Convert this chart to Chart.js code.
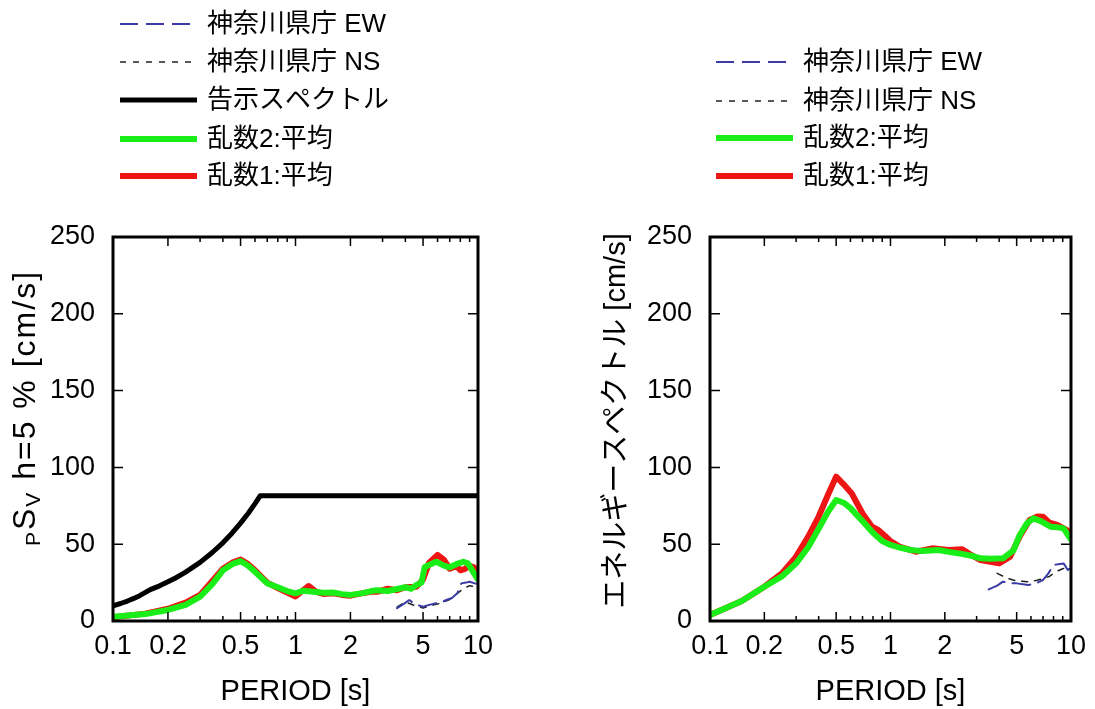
<!DOCTYPE html>
<html><head><meta charset="utf-8">
<script src="https://cdn.jsdelivr.net/npm/chart.js@4.4.1/dist/chart.umd.min.js"></script>
<style>
html,body{margin:0;padding:0;background:#fff;width:1095px;height:709px;overflow:hidden}
#c1{position:absolute;left:0;top:0}
#c2{position:absolute;left:545px;top:0}
</style></head><body>
<canvas id="c1" width="545" height="709"></canvas>
<canvas id="c2" width="550" height="709"></canvas>
<script>
// ---------- labels ----------
const labelEW = '神奈川県庁 EW';
const labelNS = '神奈川県庁 NS';
const labelKokuji = '告示スペクトル';
const labelRand2 = '乱数2:平均';
const labelRand1 = '乱数1:平均';
const xTitle = 'PERIOD [s]';
const yTitleRight = 'エネルギースペクトル [cm/s]';
// left y title pieces: prefix subscript, main, subscript, rest
const yTitleLeftParts = ['P', 'S', 'V', ' h=5 % [cm/s]'];

// ---------- ticks ----------
const xTickValues = [0.1, 0.2, 0.5, 1, 2, 5, 10];
const xMinorTicks = [0.3, 0.4, 0.6, 0.7, 0.8, 0.9, 3, 4, 6, 7, 8, 9];
const yTickValues = [0, 50, 100, 150, 200, 250];

// ---------- left chart: pSv (h=5%) ----------
const kokujiT = [0.1, 0.11, 0.12, 0.13, 0.14, 0.16, 0.18, 0.2, 0.22, 0.25, 0.3, 0.35, 0.4, 0.45, 0.5, 0.55, 0.6, 0.64, 10];
const kokujiV = [9.9, 11.4, 13.0, 14.7, 16.5, 20.4, 22.9, 25.5, 28.0, 31.8, 38.2, 44.6, 50.9, 57.3, 63.7, 70.0, 76.4, 81.5, 81.5];

const svRand2T = [0.1, 0.15, 0.2, 0.25, 0.3, 0.35, 0.4, 0.45, 0.5, 0.55, 0.6, 0.7, 0.8, 0.9, 1.0, 1.1, 1.25, 1.42, 1.6, 1.8, 2.0, 2.3, 2.6, 2.8, 3.2, 3.6, 4.0, 4.3, 4.6, 4.9, 5.1, 5.5, 5.9, 6.5, 7.0, 7.6, 8.3, 8.8, 9.4, 10];
const svRand2V = [2.8, 4.5, 7.2, 10.5, 15.8, 24, 33, 37, 39, 36, 32, 24.5, 22, 19.5, 18, 19.7, 19, 18.4, 18.5, 17.5, 17, 18, 19.5, 20, 19.5, 20.8, 22, 21, 23.4, 25, 35, 37, 38.6, 36, 35, 37, 38.6, 37.5, 32, 27];

const svRand1T = [0.1, 0.15, 0.2, 0.25, 0.3, 0.35, 0.4, 0.45, 0.5, 0.55, 0.6, 0.7, 0.8, 0.9, 1.0, 1.1, 1.18, 1.3, 1.42, 1.6, 1.8, 2.0, 2.3, 2.6, 2.8, 3.2, 3.6, 4.0, 4.6, 5.0, 5.4, 6.0, 6.5, 7.0, 7.6, 8.0, 8.5, 9.0, 9.5, 10];
const svRand1V = [2.5, 4.8, 8, 12, 17, 26, 34, 38, 40, 37, 33, 25, 21.5, 18.5, 16, 20, 22.8, 19, 17.6, 18, 17, 16.5, 18, 19, 19, 21, 20, 22, 22.3, 27, 38, 43, 40, 34, 36, 33, 34, 36, 35, 29];

const svEWT = [3.6, 3.9, 4.2, 4.5, 5.0, 5.4, 5.9, 6.3, 6.7, 7.2, 7.7, 8.1, 8.6, 9.0, 9.6, 10];
const svEWV = [8.3, 11, 13.7, 11, 9.3, 10.5, 11.5, 12, 13.7, 15, 18, 24.5, 25, 25.6, 24.5, 24];
const svNST = [3.6, 4.0, 4.5, 5.0, 5.5, 6.0, 6.5, 7.0, 7.7, 8.3, 9.0, 10];
const svNSV = [9, 12.5, 10, 8.5, 10, 11, 12.5, 14, 18, 21, 23, 22];

// ---------- right chart: energy spectrum ----------
const enRand2T = [0.1, 0.15, 0.2, 0.25, 0.3, 0.35, 0.4, 0.45, 0.5, 0.55, 0.6, 0.7, 0.8, 0.9, 1.0, 1.15, 1.3, 1.5, 1.84, 2.1, 2.4, 2.8, 3.15, 3.6, 4.2, 4.8, 5.2, 5.7, 6.2, 6.8, 7.7, 8.4, 9.1, 10];
const enRand2V = [3.9, 13, 22.3, 29, 37.5, 48, 60, 71, 78.8, 77, 73.5, 65, 57.5, 52, 49.5, 47.5, 46.2, 45.5, 46.2, 45, 44, 42.5, 40.8, 40.5, 40.8, 46, 56, 63.6, 66.8, 65, 61.4, 61, 60.3, 53];

const enRand1T = [0.1, 0.15, 0.2, 0.25, 0.3, 0.35, 0.4, 0.45, 0.5, 0.55, 0.61, 0.7, 0.79, 0.85, 0.94, 1.0, 1.12, 1.38, 1.7, 2.1, 2.5, 2.8, 3.15, 4.0, 4.6, 5.2, 5.9, 6.5, 7.0, 7.6, 8.4, 9.5, 10];
const enRand1V = [3.9, 13, 22.3, 31, 41.9, 55, 68, 82, 94, 89, 83, 70, 61.4, 59.5, 55, 52, 48.4, 45.1, 47.3, 46.2, 46.7, 43, 39.7, 37.5, 41.9, 55, 65.8, 68, 67.9, 64, 62.5, 59.2, 54];

const enEWT = [3.5, 3.9, 4.2, 4.6, 5.0, 5.8, 6.4, 7.0, 7.5, 8.0, 8.5, 9.1, 9.6, 10];
const enEWV = [20.6, 23, 25.6, 24.5, 24.5, 23.4, 24.5, 26.7, 31, 36.5, 37, 37.5, 33.2, 35];
const enNST = [3.9, 4.4, 5.0, 5.8, 6.5, 7.0, 7.6, 8.2, 9.0, 10];
const enNSV = [31, 28, 26, 25.6, 26.5, 27.8, 29, 32, 34, 36];

// ---------- styles ----------
const FONT = '"Liberation Sans", "Noto Sans CJK JP", sans-serif';
const COL_EW = '#3b3ba6', COL_NS = '#222222', COL_RED = '#ee1515', COL_GREEN = '#19ee19';
const pts = (T, V) => T.map((t, i) => ({ x: t, y: V[i] }));

function ds(label, T, V, color, width, dash) {
  return { label, data: pts(T, V), borderColor: color, backgroundColor: color,
    borderWidth: width, borderDash: dash || [], pointRadius: 0, tension: 0,
    borderJoinStyle: 'round', borderCapStyle: 'round', fill: false };
}

function decor(cfg) {
  return {
    id: 'decor',
    afterDatasetsDraw(chart) {
      const ctx = chart.ctx, a = chart.chartArea, xs = chart.scales.x, ys = chart.scales.y;
      ctx.save();
      ctx.strokeStyle = '#000'; ctx.lineWidth = 1.5; ctx.setLineDash([]);
      ctx.beginPath();
      yTickValues.forEach(v => { const p = ys.getPixelForValue(v);
        ctx.moveTo(a.left, p); ctx.lineTo(a.left + 10, p);
        ctx.moveTo(a.right, p); ctx.lineTo(a.right - 10, p); });
      xTickValues.forEach(v => { const p = xs.getPixelForValue(v);
        ctx.moveTo(p, a.bottom); ctx.lineTo(p, a.bottom - 9);
        ctx.moveTo(p, a.top); ctx.lineTo(p, a.top + 9); });
      xMinorTicks.forEach(v => { const p = xs.getPixelForValue(v);
        ctx.moveTo(p, a.bottom); ctx.lineTo(p, a.bottom - 5);
        ctx.moveTo(p, a.top); ctx.lineTo(p, a.top + 5); });
      ctx.stroke();
      ctx.lineWidth = 3;
      ctx.strokeRect(a.left, a.top, a.right - a.left, a.bottom - a.top);
      ctx.restore();
    },
    afterDraw(chart) {
      const ctx = chart.ctx, a = chart.chartArea;
      ctx.save();
      // legend
      chart.data.datasets.forEach((d, i) => {
        const y = cfg.legendY[i];
        ctx.beginPath();
        ctx.setLineDash(d.borderDash || []);
        ctx.lineWidth = d.borderWidth;
        ctx.strokeStyle = d.borderColor;
        ctx.lineCap = 'butt';
        ctx.moveTo(cfg.lx0, y); ctx.lineTo(cfg.lx1, y); ctx.stroke();
        ctx.setLineDash([]);
        ctx.fillStyle = '#000';
        ctx.font = '26px ' + FONT;
        ctx.textAlign = 'left'; ctx.textBaseline = 'middle';
        ctx.fillText(d.label, cfg.tx, y + 1);
      });
      // x title
      ctx.fillStyle = '#000';
      ctx.font = '29px ' + FONT;
      ctx.textAlign = 'center'; ctx.textBaseline = 'middle';
      ctx.fillText(xTitle, (a.left + a.right) / 2, 692);
      // y title
      ctx.translate(cfg.ytx, cfg.yty);
      ctx.rotate(-Math.PI / 2);
      ctx.textBaseline = 'alphabetic';
      if (cfg.yParts) {
        if ('letterSpacing' in ctx) ctx.letterSpacing = '2px';
        const big = '32px ' + FONT, small = '21px ' + FONT;
        const parts = [[cfg.yParts[0], small, 5], [cfg.yParts[1], big, 0], [cfg.yParts[2], small, 5], [cfg.yParts[3], big, 0]];
        let total = 0;
        parts.forEach(p => { ctx.font = p[1]; total += ctx.measureText(p[0]).width; });
        let x = -total / 2;
        ctx.textAlign = 'left';
        parts.forEach(p => { ctx.font = p[1]; ctx.fillText(p[0], x, 11 + p[2]); x += ctx.measureText(p[0]).width; });
      } else {
        ctx.font = '29px ' + FONT;
        ctx.textAlign = 'center';
        ctx.fillText(cfg.yText, 0, 10);
      }
      ctx.restore();
    }
  };
}

function options(yWidth, padRight) {
  return {
    responsive: false, animation: false, events: [],
    layout: { padding: { top: 237, right: padRight, left: 0, bottom: 0 } },
    plugins: { legend: { display: false }, tooltip: { enabled: false } },
    scales: {
      x: { type: 'logarithmic', min: 0.1, max: 10,
        grid: { display: false, drawTicks: false }, border: { display: false },
        afterBuildTicks: s => { s.ticks = xTickValues.map(v => ({ value: v })); },
        afterFit: s => { s.height = 709 - 621; },
        ticks: { autoSkip: false, maxRotation: 0, padding: 9, color: '#000',
          font: { family: FONT, size: 27 }, callback: v => String(v) } },
      y: { min: 0, max: 250,
        grid: { display: false, drawTicks: false }, border: { display: false },
        afterBuildTicks: s => { s.ticks = yTickValues.map(v => ({ value: v })); },
        afterFit: s => { s.width = yWidth; },
        ticks: { padding: 18, color: '#000', font: { family: FONT, size: 27 } } }
    }
  };
}

new Chart(document.getElementById('c1'), {
  type: 'line',
  data: { datasets: [
    ds(labelEW, svEWT, svEWV, COL_EW, 2, [18, 8]),
    ds(labelNS, svNST, svNSV, COL_NS, 1.5, [6, 7]),
    ds(labelKokuji, kokujiT, kokujiV, '#000', 5),
    ds(labelRand2, svRand2T, svRand2V, COL_GREEN, 6),
    ds(labelRand1, svRand1T, svRand1V, COL_RED, 6)
  ] },
  options: options(113, 545 - 478),
  plugins: [decor({ legendY: [24, 62, 100, 139, 176], lx0: 120, lx1: 197, tx: 207,
    ytx: 24, yty: 408, yParts: yTitleLeftParts })]
});

new Chart(document.getElementById('c2'), {
  type: 'line',
  data: { datasets: [
    ds(labelEW, enEWT, enEWV, COL_EW, 2, [18, 8]),
    ds(labelNS, enNST, enNSV, COL_NS, 1.5, [6, 7]),
    ds(labelRand2, enRand2T, enRand2V, COL_GREEN, 6),
    ds(labelRand1, enRand1T, enRand1V, COL_RED, 6)
  ] },
  options: options(710 - 545, 550 - 529),
  plugins: [decor({ legendY: [62, 101, 138, 176], lx0: 716 - 545, lx1: 793 - 545, tx: 803 - 545,
    ytx: 615 - 545, yty: 421, yText: yTitleRight })]
});
</script>
</body></html>
